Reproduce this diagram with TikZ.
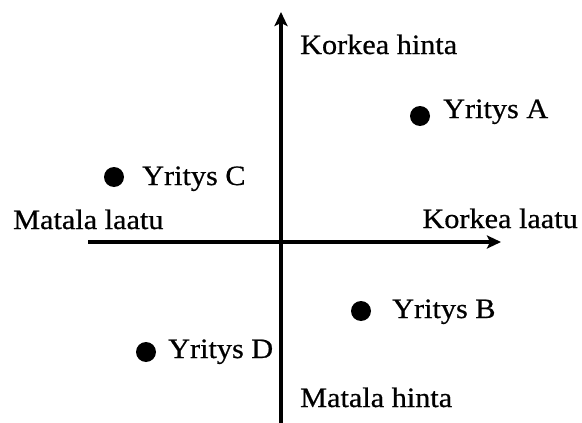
\documentclass[tikz,border=0pt]{standalone}
\usepackage{fontspec}
\setmainfont[FakeStretch=1.08,FakeBold=0.6]{Liberation Serif}
\usetikzlibrary{arrows.meta}
\tikzset{
  axis/.style={line width=3.5pt,-{Stealth[length=14pt,width=13pt,inset=3pt]}},
  firm/.style={circle,fill=black,inner sep=0pt,minimum size=20pt},
  lbl/.style={anchor=base west,inner sep=0pt,font=\fontsize{28}{30}\selectfont},
}
\begin{document}
\begin{tikzpicture}[x=1pt,y=-1pt]
\useasboundingbox (0,0) rectangle (582,423);
\coordinate (vb) at (281,423);
\coordinate (vt) at (281,12);
\coordinate (hl) at (88,242);
\coordinate (hr) at (501,242);
\draw[axis] (vb) -- (vt);
\draw[axis] (hl) -- (hr);
\node[lbl] (kh) at (300,54) {Korkea hinta};
\node[lbl] (mh) at (300,407) {Matala hinta};
\node[lbl] (ml) at (13,229) {Matala laatu};
\node[lbl,anchor=base east] (kl) at (578,228) {Korkea laatu};
\node[firm] (a) at (420,116) {};
\node[lbl] (ta) at (443,118) {Yritys A};
\node[firm] (c) at (114,177) {};
\node[lbl] (tc) at (142,185) {Yritys C};
\node[firm] (b) at (361,311) {};
\node[lbl] (tb) at (392,318) {Yritys B};
\node[firm] (d) at (146,352) {};
\node[lbl] (td) at (168,358) {Yritys D};
\end{tikzpicture}
\end{document}
